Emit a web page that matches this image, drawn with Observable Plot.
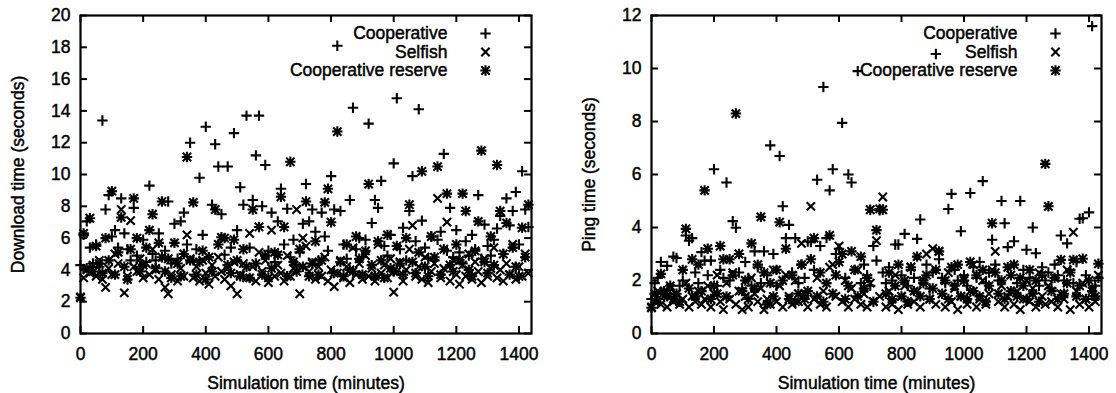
<!DOCTYPE html>
<html><head><meta charset="utf-8">
<script src="https://cdn.jsdelivr.net/npm/d3@7"></script>
<script src="https://cdn.jsdelivr.net/npm/@observablehq/plot@0.6"></script>
<style>
html,body{margin:0;padding:0;background:#fff;}
#wrap{display:flex;width:1116px;height:393px;overflow:hidden;}
svg text{paint-order:stroke;stroke:#000;stroke-width:0.45px;}
</style></head><body><div id="wrap"></div>
<script>
// Simulation time (minutes), shared by all series
const times = [
0,10,20,30,40,50,60,70,80,90,100,110,
120,130,140,150,160,170,180,190,200,210,220,230,
240,250,260,270,280,290,300,310,320,330,340,350,
360,370,380,390,400,410,420,430,440,450,460,470,
480,490,500,510,520,530,540,550,560,570,580,590,
600,610,620,630,640,650,660,670,680,690,700,710,
720,730,740,750,760,770,780,790,800,810,820,830,
840,850,860,870,880,890,900,910,920,930,940,950,
960,970,980,990,1000,1010,1020,1030,1040,1050,1060,1070,
1080,1090,1100,1110,1120,1130,1140,1150,1160,1170,1180,1190,
1200,1210,1220,1230,1240,1250,1260,1270,1280,1290,1300,1310,
1320,1330,1340,1350,1360,1370,1380,1390,1400,1410,1420,1430];

// Download time (seconds)
const dlCoop = [
4.3,6.2,7.05,5.4,4.4,5.6,4.2,13.4,7.8,8.7,6.1,6.5,
5.4,8.5,6.3,5.3,4.6,7.9,4.9,4.2,5.9,4.5,9.3,5.0,
4.6,6.3,4.8,5.2,8.3,4.4,6.9,4.7,7.05,7.6,5.6,12.0,
4.6,5.3,9.8,6.2,13.0,4.8,8.1,11.9,10.5,7.5,4.95,10.5,
5.4,12.6,6.5,9.2,8.1,13.7,5.4,8.4,11.2,13.7,8.0,10.6,
5.2,7.6,4.5,7.05,9.1,5.6,7.85,4.8,5.9,4.3,5.1,6.9,
9.4,7.05,7.8,6.4,4.6,7.6,6.1,5.2,9.9,7.8,18.1,7.7,
5.6,4.7,8.4,14.2,5.3,6.0,4.8,5.9,13.2,6.95,8.4,7.9,
9.6,5.5,4.9,6.2,10.7,14.8,5.3,6.65,4.6,7.7,9.9,5.8,
14.1,7.1,5.4,4.7,6.1,4.6,5.9,6.4,11.3,5.2,7.9,4.8,
6.5,5.1,4.4,5.8,4.9,6.2,5.3,8.7,4.7,6.85,5.5,4.9,
5.9,6.6,7.4,5.0,8.5,6.8,7.7,8.9,5.6,10.2,7.8,6.7];
const dlSelf = [
2.3,3.5,4.0,3.8,4.3,3.6,4.6,3.4,2.9,4.1,3.7,5.0,
4.4,7.8,2.55,3.6,7.1,4.2,3.9,4.7,3.5,4.4,3.7,5.3,
4.0,3.4,4.8,2.9,2.5,3.7,4.5,3.3,4.1,3.6,6.2,4.7,
3.5,4.2,3.3,4.6,3.8,3.1,4.3,3.6,4.8,3.9,3.4,4.1,
3.0,4.5,2.5,3.7,4.4,3.5,6.3,4.2,3.3,5.1,3.9,4.6,
3.2,6.5,3.6,4.3,3.8,3.3,4.9,3.6,4.1,7.8,2.5,6.0,
5.5,3.9,4.5,3.4,4.2,3.6,4.8,3.3,4.0,2.95,3.8,4.6,
3.5,4.2,3.2,5.4,3.7,4.4,3.4,4.9,3.6,4.1,3.3,5.6,
3.8,4.3,3.5,4.7,2.6,3.9,4.5,3.3,4.0,5.3,6.8,3.6,
4.2,3.4,4.8,3.2,3.9,4.4,8.5,3.5,4.1,7.0,3.3,4.6,
3.7,3.1,4.3,3.6,5.0,3.4,4.5,3.9,3.2,4.7,3.6,4.1,
5.4,3.5,4.0,3.3,4.4,3.7,5.6,3.4,4.2,3.6,5.0,3.8];
const dlRes = [
2.25,6.3,4.1,7.25,3.9,5.5,4.4,3.8,6.0,4.6,8.95,3.7,
5.1,7.3,4.2,3.4,5.3,8.5,6.0,3.9,4.3,5.4,6.5,7.5,
4.1,5.7,8.3,3.9,4.7,3.5,5.7,4.4,3.6,5.0,11.1,4.6,
8.25,3.7,4.5,5.2,3.4,4.8,3.9,7.8,5.6,6.05,6.0,4.3,
3.8,5.9,4.6,3.6,5.3,4.2,3.5,7.8,4.4,6.7,3.7,4.9,
3.5,4.1,5.1,4.95,8.6,6.7,3.6,10.8,4.5,3.9,5.3,4.2,
8.3,3.6,4.4,5.8,3.7,4.6,8.25,9.1,7.0,3.8,12.7,4.5,
3.6,5.6,4.0,3.9,6.1,4.7,3.7,5.2,9.4,4.3,3.6,5.8,
4.6,3.5,6.2,4.1,3.9,5.5,4.4,3.7,6.0,8.1,4.5,3.8,
5.1,10.2,4.2,3.6,6.1,4.8,10.5,3.7,5.3,8.8,4.3,3.9,
5.6,4.6,8.8,7.7,4.0,3.6,5.2,7.05,11.5,4.5,3.8,6.1,
4.3,10.6,7.7,5.0,6.95,3.7,5.4,4.2,3.6,6.65,4.8,8.1];

// Ping time (seconds)
const pingCoop = [
1.3,1.9,2.1,2.7,1.6,2.55,1.5,2.9,2.85,1.8,2.0,3.7,
3.5,3.6,2.3,1.9,3.07,2.75,2.2,2.75,6.2,1.8,2.4,2.1,
5.7,2.0,4.24,3.99,2.3,1.7,2.7,2.1,1.8,3.1,2.5,1.9,
3.1,2.2,7.1,3.0,1.8,6.7,4.8,3.6,4.1,2.3,3.6,1.9,
2.6,2.1,3.47,3.45,2.4,5.8,3.3,9.3,3.6,5.4,6.2,3.0,
3.2,7.95,2.1,6.0,5.7,2.4,9.9,1.9,2.6,2.2,1.8,3.3,
2.75,4.65,2.3,1.9,2.5,2.0,3.36,3.36,2.2,3.76,1.8,2.4,
2.1,3.57,4.3,2.0,2.6,1.7,2.3,10.55,2.8,2.1,1.9,4.7,
5.27,2.4,2.0,3.86,2.2,1.8,5.3,2.5,2.1,2.7,5.75,1.9,
2.3,3.54,2.6,2.0,5.0,4.16,3.26,2.2,3.48,1.9,5.0,2.4,
3.16,2.1,4.0,3.03,1.8,2.5,2.0,2.3,1.7,2.6,2.2,3.7,
2.0,3.4,2.4,1.9,2.7,4.33,4.35,2.2,4.57,11.6,1.8,2.1];
const pingSelf = [
1.0,1.2,1.6,1.1,1.4,1.0,1.7,1.2,1.5,1.1,1.3,1.9,
1.0,1.4,1.2,1.6,1.1,1.3,1.8,1.0,1.5,2.2,1.2,0.9,
1.9,1.3,2.3,1.1,1.6,0.9,1.4,1.0,2.1,1.5,1.2,1.7,
0.9,1.3,1.1,2.4,1.2,1.8,1.0,2.2,1.4,1.1,2.0,1.2,
3.4,1.5,1.0,4.8,1.3,2.1,1.1,1.6,1.0,2.5,2.6,1.4,
3.3,1.2,2.0,1.0,1.7,1.3,2.4,1.1,1.5,1.0,1.9,1.2,
3.5,1.4,5.15,1.0,1.6,1.1,2.2,0.9,1.4,1.8,1.1,2.5,
1.2,1.6,1.0,2.0,3.0,1.3,3.2,1.1,3.1,1.5,1.0,2.3,
1.2,1.7,0.9,1.4,2.1,1.1,1.6,2.6,1.0,1.3,2.0,1.1,
1.5,2.4,3.1,1.2,1.8,1.0,1.4,2.2,1.1,1.6,0.9,1.3,
2.0,1.2,1.7,1.0,2.3,1.4,1.1,1.8,1.2,2.1,1.0,1.5,
1.3,2.4,0.9,3.82,1.6,1.1,1.9,1.3,1.0,1.7,1.2,2.2];
const pingRes = [
0.97,1.5,1.3,2.25,1.6,1.4,1.8,1.3,1.5,1.2,2.4,3.95,
1.7,2.8,1.4,2.6,1.6,5.4,3.2,1.3,1.8,1.5,3.3,2.8,
1.4,2.8,2.2,8.3,3.0,1.6,2.0,1.3,3.4,1.7,2.6,4.4,
2.3,1.1,1.9,1.4,2.4,4.2,2.0,3.2,1.3,2.2,1.2,1.5,
2.6,1.3,1.6,2.8,3.6,1.4,2.3,1.2,1.9,3.7,1.5,2.2,
2.7,3.0,1.3,1.8,3.1,2.4,1.4,2.9,1.7,2.1,4.67,1.2,
3.9,4.7,4.67,1.5,2.3,1.3,1.8,2.6,1.4,2.0,1.2,2.5,
1.6,2.9,1.4,1.9,2.2,1.3,1.7,2.4,3.1,1.5,2.0,1.3,
2.5,1.8,2.6,1.4,2.0,1.3,2.7,1.6,2.2,1.4,2.4,1.2,
1.8,4.16,2.3,1.5,2.0,1.3,2.5,1.6,2.6,1.4,2.1,1.8,
1.3,2.4,1.5,2.0,1.2,2.2,6.4,4.8,1.6,2.1,1.3,2.78,
1.5,1.9,2.3,2.78,1.4,1.8,2.82,1.3,2.0,1.6,1.4,2.63];

const seriesNames = ["Cooperative", "Selfish", "Cooperative reserve"];
const xTicks = [0,200,400,600,800,1000,1200,1400];
const dlTicks = [0,2,4,6,8,10,12,14,16,18,20];
const pingTicks = [0,2,4,6,8,10,12];

// gnuplot-like point types
const plusSym = {draw(c, s) { const r = Math.sqrt(s / Math.PI); c.moveTo(-r, 0); c.lineTo(r, 0); c.moveTo(0, -r); c.lineTo(0, r); }};
const timesSym = {draw(c, s) { const r = Math.sqrt(s / Math.PI) * 0.8; c.moveTo(-r, -r); c.lineTo(r, r); c.moveTo(-r, r); c.lineTo(r, -r); }};
const starSym = {draw(c, s) { plusSym.draw(c, s); timesSym.draw(c, s); }};
const syms = [plusSym, timesSym, starSym];

const INK = "#000";
const R = 5.2, SW = 2.1;
const TICK = 7, PH = 318; // tick length, plot-area height

function panel({yDomain, yTicks, yLabel, series, marginLeft, marginRight}) {
  const idx = times.map((_, i) => i);
  const PW = 558 - marginLeft - marginRight;
  const dotOpts = (vals, sym) => ({x: i => times[i], y: i => vals[i], symbol: sym, r: R, stroke: INK, fill: "none", strokeWidth: SW});
  const legend = [];
  seriesNames.forEach((name, k) => {
    legend.push(Plot.text([name], {frameAnchor: "top-right", dx: -84, dy: 18 + k * 18.5, textAnchor: "end", lineAnchor: "middle", fill: INK}));
    legend.push(Plot.dot([k], {frameAnchor: "top-right", dx: -46, dy: 18 + k * 18.5, symbol: syms[k], r: R, stroke: INK, fill: "none", strokeWidth: SW}));
  });
  return Plot.plot({
    width: 558, height: 393, marginLeft, marginRight, marginTop: 15, marginBottom: 60,
    style: {fontFamily: "'Liberation Sans', Arial, Helvetica, sans-serif", fontSize: "17.5px", color: INK, background: "white"},
    x: {domain: [0, 1440]},
    y: {domain: yDomain},
    marks: [
      Plot.dot(idx, dotOpts(series[0], plusSym)),
      Plot.dot(idx, dotOpts(series[1], timesSym)),
      Plot.dot(idx, dotOpts(series[2], starSym)),
      ...legend,
      // inward ticks on all four sides
      Plot.tickX(xTicks, {x: d => d, insetTop: PH - TICK, stroke: INK, strokeWidth: 2}),
      Plot.tickX(xTicks, {x: d => d, insetBottom: PH - TICK, stroke: INK, strokeWidth: 2}),
      Plot.tickY(yTicks, {y: d => d, insetRight: PW - TICK, stroke: INK, strokeWidth: 2}),
      Plot.tickY(yTicks, {y: d => d, insetLeft: PW - TICK, stroke: INK, strokeWidth: 2}),
      Plot.axisX({ticks: xTicks, tickSize: 0, tickPadding: 14, tickFormat: d => String(d), label: "Simulation time (minutes)", labelAnchor: "center", labelOffset: 55, labelArrow: "none"}),
      Plot.axisY({ticks: yTicks, tickSize: 0, tickPadding: 10, tickFormat: d => String(d), label: yLabel, labelAnchor: "center", labelOffset: 69, labelArrow: "none"}),
      Plot.frame({stroke: INK, strokeWidth: 2.2})
    ]
  });
}

const wrap = document.getElementById("wrap");
wrap.appendChild(panel({yDomain: [0, 20], yTicks: dlTicks, yLabel: "Download time (seconds)", series: [dlCoop, dlSelf, dlRes], marginLeft: 80, marginRight: 27}));
wrap.appendChild(panel({yDomain: [0, 12], yTicks: pingTicks, yLabel: "Ping time (seconds)", series: [pingCoop, pingSelf, pingRes], marginLeft: 93, marginRight: 15}));
</script>
</body></html>
